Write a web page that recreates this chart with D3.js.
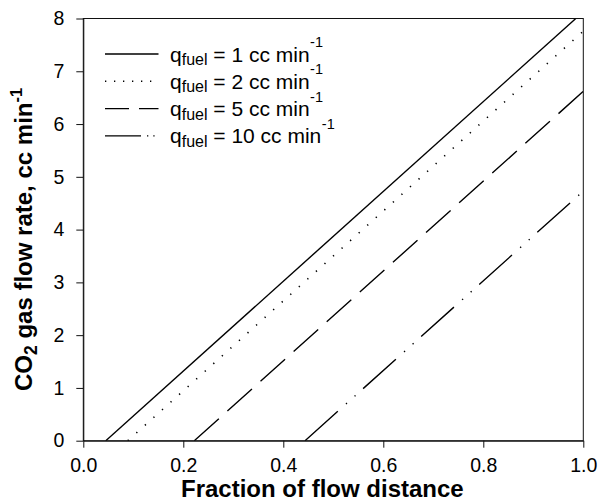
<!DOCTYPE html>
<html>
<head>
<meta charset="utf-8">
<script src="https://cdn.jsdelivr.net/npm/d3@7"></script>
<style>
  html, body { margin: 0; padding: 0; background: #fff; }
  svg { display: block; font-family: "Liberation Sans", Arial, Helvetica, sans-serif; }
</style>
</head>
<body>
<svg id="chart" width="599" height="501"></svg>
<script>
// ---- data ----
const xTicks = [0.0, 0.2, 0.4, 0.6, 0.8, 1.0];
const yTicks = [0, 1, 2, 3, 4, 5, 6, 7, 8];
const seriesLabels = ["1", "2", "5", "10"];
// each series: x = fraction of flow distance, y = CO2 gas flow rate
const q1X = [0.045, 0.985];
const q1Y = [0, 8];
const q2X = [0.089, 1.0];
const q2Y = [0, 7.76];
const q5X = [0.222, 1.0];
const q5Y = [0, 6.62];
const q10X = [0.4435, 1.0];
const q10Y = [0, 4.73];

const seriesX = [q1X, q2X, q5X, q10X];
const seriesY = [q1Y, q2Y, q5Y, q10Y];
const lineDash = [null, "1.3,10.2", "33,11.5", "44,11,1.3,10.2,1.3,10.2"];
const legendDash = [null, "1.3,7.7", "24,10", "36,6,1.3,5,1.3,20"];

// ---- layout ----
const svg = d3.select("#chart");
const L = 83.3, R = 583.3, T = 18.5, B = 440.7;
const x = d3.scaleLinear().domain([0, 1]).range([L, R]);
const y = d3.scaleLinear().domain([0, 8]).range([B, T]);

svg.append("defs").append("clipPath").attr("id", "clip")
  .append("rect").attr("x", L).attr("y", T).attr("width", R - L).attr("height", B - T);

// frame
svg.append("rect").attr("x", L).attr("y", T).attr("width", R - L).attr("height", B - T)
  .attr("fill", "none").attr("stroke", "#111").attr("stroke-width", 1);

// axes
const xAxis = d3.axisBottom(x).tickValues(xTicks).tickFormat(d3.format(".1f"))
  .tickSize(7).tickSizeOuter(0).tickPadding(10);
const yAxis = d3.axisLeft(y).tickValues(yTicks).tickFormat(d3.format("d"))
  .tickSize(7).tickSizeOuter(0).tickPadding(12);

const gx = svg.append("g").attr("transform", `translate(0,${B})`).call(xAxis);
const gy = svg.append("g").attr("transform", `translate(${L},0)`).call(yAxis);
[gx, gy].forEach(g => {
  g.selectAll("path.domain").attr("stroke", "#111");
  g.selectAll(".tick line").attr("stroke", "#111");
  g.selectAll(".tick text").attr("fill", "#000").attr("font-size", "19.5px")
    .attr("font-family", '"Liberation Sans", Arial, sans-serif');
});

// lines
const line = d3.line().x(d => x(d[0])).y(d => y(d[1]));
const plot = svg.append("g").attr("clip-path", "url(#clip)");
seriesX.forEach((xs, i) => {
  const pts = xs.map((v, j) => [v, seriesY[i][j]]);
  plot.append("path").attr("d", line(pts))
    .attr("fill", "none").attr("stroke", "#000")
    .attr("stroke-width", i === 1 ? 1.6 : 1.4)
    .attr("stroke-dasharray", lineDash[i]);
});

// legend
const legX0 = 105, legX1 = 158.5, legTextX = 170, legBase0 = 61.5, legStep = 27.3;
seriesLabels.forEach((lab, i) => {
  const base = legBase0 + i * legStep;
  svg.append("line").attr("x1", legX0).attr("x2", legX1)
    .attr("y1", base - 7.5).attr("y2", base - 7.5)
    .attr("stroke", "#000").attr("stroke-width", i === 1 ? 1.6 : 1.4)
    .attr("stroke-dasharray", legendDash[i]);
  const t = svg.append("text").attr("x", legTextX).attr("y", base)
    .attr("font-size", "21px").attr("fill", "#000");
  t.append("tspan").text("q");
  t.append("tspan").attr("font-size", "16px").attr("dy", 3.5).text("fuel");
  t.append("tspan").attr("dy", -3.5).text(" = " + lab + " cc min");
  t.append("tspan").attr("font-size", "14.5px").attr("dx", 0.5).attr("dy", -14.5).text("-1");
});

// axis titles
svg.append("text").attr("x", 181).attr("y", 497)
  .attr("font-size", "24px").attr("font-weight", "bold").attr("fill", "#000")
  .text("Fraction of flow distance");

const yt = svg.append("text")
  .attr("transform", "translate(32,391) rotate(-90)")
  .attr("font-size", "24px").attr("font-weight", "bold").attr("fill", "#000");
yt.append("tspan").text("CO");
yt.append("tspan").attr("font-size", "17.5px").attr("dy", 5).text("2");
yt.append("tspan").attr("dy", -5).text(" gas flow rate, cc min");
yt.append("tspan").attr("font-size", "16.5px").attr("dy", -10.5).text("-1");
</script>
</body>
</html>
